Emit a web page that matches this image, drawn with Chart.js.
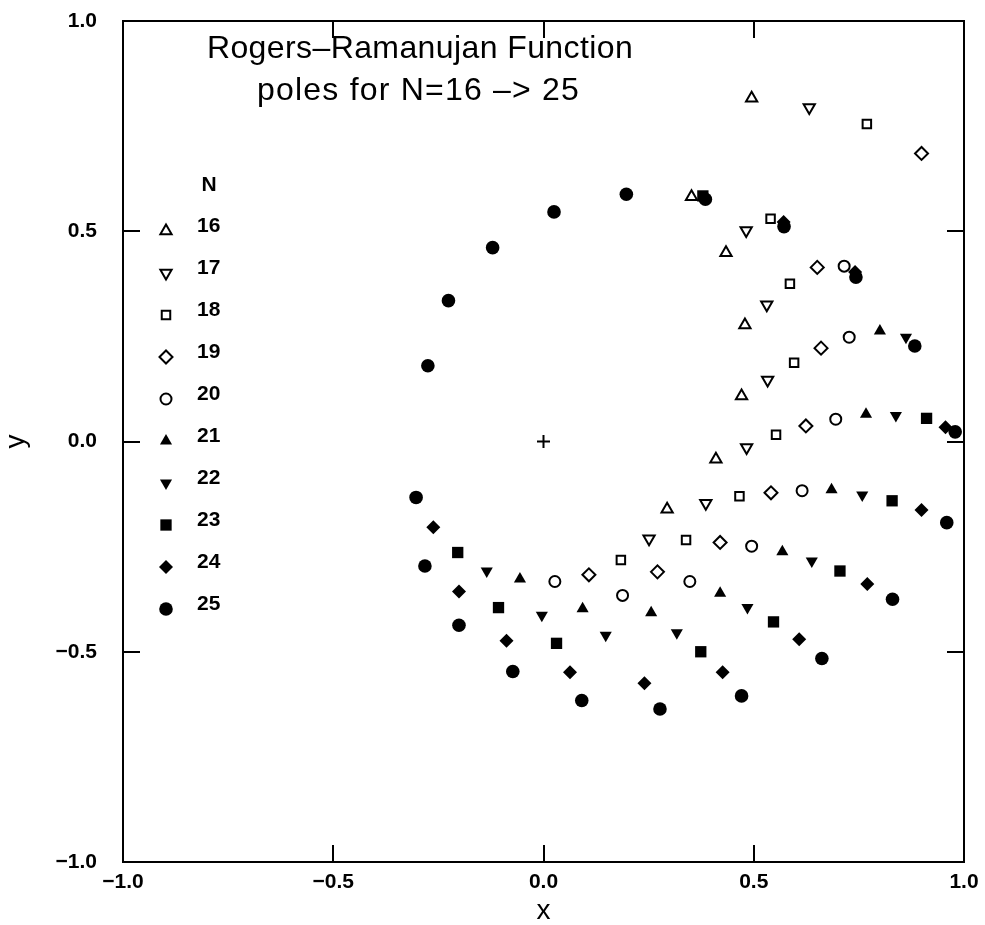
<!DOCTYPE html>
<html><head><meta charset="utf-8">
<script src="https://cdn.jsdelivr.net/npm/chart.js@4/dist/chart.umd.min.js"></script>
<style>html,body{margin:0;padding:0;background:#fff}#wrap{width:985px;height:925px}</style>
</head><body><div id="wrap"><canvas id="c" width="985" height="925"></canvas></div>
<script>
// ---------------- data ----------------
const nValues = [16, 17, 18, 19, 20, 21, 22, 23, 24, 25];

const poles16 = [[0.495,0.816],[0.352,0.582],[0.434,0.449],[0.479,0.277],[0.471,0.108],[0.410,-0.042],[0.294,-0.161]];
const poles17 = [[0.632,0.794],[0.482,0.502],[0.531,0.325],[0.533,0.146],[0.483,-0.014],[0.386,-0.147],[0.251,-0.231]];
const poles18 = [[0.769,0.755],[0.540,0.530],[0.586,0.375],[0.596,0.187],[0.553,0.016],[0.466,-0.130],[0.339,-0.234],[0.184,-0.282]];
const poles19 = [[0.899,0.685],[0.651,0.414],[0.660,0.222],[0.624,0.037],[0.541,-0.122],[0.420,-0.240],[0.271,-0.310],[0.108,-0.317]];
const poles20 = [[0.715,0.417],[0.727,0.248],[0.695,0.053],[0.615,-0.117],[0.495,-0.249],[0.348,-0.333],[0.188,-0.366],[0.027,-0.333]];
const poles21 = [[0.800,0.263],[0.767,0.065],[0.685,-0.115],[0.568,-0.262],[0.420,-0.361],[0.256,-0.407],[0.093,-0.398],[-0.056,-0.327]];
const poles22 = [[0.862,0.248],[0.838,0.062],[0.758,-0.127],[0.638,-0.284],[0.485,-0.395],[0.317,-0.455],[0.148,-0.461],[-0.004,-0.413],[-0.135,-0.308]];
const poles23 = [[0.379,0.584],[0.911,0.055],[0.829,-0.141],[0.705,-0.308],[0.547,-0.429],[0.374,-0.500],[0.031,-0.480],[-0.107,-0.395],[-0.204,-0.264]];
const poles24 = [[0.571,0.522],[0.741,0.403],[0.956,0.034],[0.899,-0.163],[0.770,-0.339],[0.608,-0.470],[0.426,-0.549],[0.240,-0.575],[0.063,-0.549],[-0.088,-0.474],[-0.201,-0.357],[-0.262,-0.204]];
const poles25 = [[-0.275,0.180],[-0.226,0.335],[-0.121,0.461],[0.025,0.546],[0.197,0.588],[0.385,0.576],[0.572,0.511],[0.743,0.391],[0.883,0.227],[0.979,0.023],[0.959,-0.193],[0.830,-0.375],[0.662,-0.516],[0.471,-0.605],[0.277,-0.636],[0.091,-0.616],[-0.073,-0.547],[-0.201,-0.437],[-0.282,-0.296],[-0.303,-0.133]];
const originMark = [[0, 0]];

const xTickValues = [-1, -0.5, 0, 0.5, 1];
const yTickValues = [-1, -0.5, 0, 0.5, 1];
const titleLines = ['Rogers\u2013Ramanujan Function', 'poles for N=16 \u2013> 25'];
const legendHeader = 'N';
const xTitle = 'x';
const yTitle = 'y';

// ---------------- styles ----------------
const poleSets = [poles16, poles17, poles18, poles19, poles20, poles21, poles22, poles23, poles24, poles25];
const markerStyles = [
  {pointStyle:'triangle', rotation:0,   radius:6.5, filled:false},
  {pointStyle:'triangle', rotation:180, radius:6.5, filled:false},
  {pointStyle:'rect',     rotation:0,   radius:6,   filled:false},
  {pointStyle:'rectRot',  rotation:0,   radius:6.5, filled:false},
  {pointStyle:'circle',   rotation:0,   radius:5.5, filled:false},
  {pointStyle:'triangle', rotation:0,   radius:7,   filled:true},
  {pointStyle:'triangle', rotation:180, radius:7,   filled:true},
  {pointStyle:'rect',     rotation:0,   radius:8,   filled:true},
  {pointStyle:'rectRot',  rotation:0,   radius:7,   filled:true},
  {pointStyle:'circle',   rotation:0,   radius:6.8, filled:true}
];
const FONT = "'Liberation Sans', Arial, Helvetica, sans-serif";

const toPts = arr => arr.map(p => ({x: p[0], y: p[1]}));

const datasets = nValues.map((n, i) => {
  const s = markerStyles[i];
  return {
    label: String(n),
    data: toPts(poleSets[i]),
    order: nValues.length - i,
    pointStyle: s.pointStyle,
    rotation: s.rotation,
    pointRadius: s.radius,
    pointHoverRadius: s.radius,
    backgroundColor: s.filled ? '#000' : 'rgba(255,255,255,0)',
    borderColor: '#000',
    borderWidth: s.filled ? 0 : 2,
    showLine: false
  };
});
datasets.push({
  label: 'origin',
  data: toPts(originMark),
  order: 20,
  pointStyle: 'cross',
  pointRadius: 6.5,
  pointHoverRadius: 6.5,
  borderColor: '#000',
  backgroundColor: '#000',
  borderWidth: 2,
  showLine: false
});

const fmt = v => {
  const s = Number(v).toFixed(1);
  return s.replace('-', '\u2212');
};
const gridOpts = {drawOnChartArea: false, tickLength: -17, tickWidth: 2, tickColor: '#000', lineWidth: 2, color: '#000'};
const borderOpts = {display: true, width: 2, color: '#000'};
const tickFont = {family: FONT, size: 21, weight: 'bold'};
const noPad = s => { s.paddingLeft = 0; s.paddingRight = 0; s.paddingTop = 0; s.paddingBottom = 0; };

const titlePlugin = {
  id: 'titleInside',
  afterDraw(chart) {
    const ctx = chart.ctx;
    ctx.save();
    ctx.fillStyle = '#000';
    ctx.font = "32px " + FONT;
    ctx.textAlign = 'center';
    ctx.textBaseline = 'alphabetic';
    if ('letterSpacing' in ctx) ctx.letterSpacing = '0.4px';
    ctx.fillText(titleLines[0], 420, 58);
    if ('letterSpacing' in ctx) ctx.letterSpacing = '1.2px';
    ctx.fillText(titleLines[1], 418.5, 100);
    if ('letterSpacing' in ctx) ctx.letterSpacing = '0px';
    ctx.restore();
  }
};

const legendPlugin = {
  id: 'legendInside',
  afterDraw(chart) {
    const ctx = chart.ctx;
    ctx.save();
    ctx.fillStyle = '#000';
    ctx.font = "bold 21px " + FONT;
    ctx.textBaseline = 'middle';
    ctx.textAlign = 'center';
    ctx.fillText(legendHeader, 209, 185);
    ctx.textAlign = 'left';
    nValues.forEach((n, i) => {
      const yc = 226 + 42 * i;
      ctx.fillStyle = '#000';
      ctx.fillText(String(n), 197, yc);
      const s = markerStyles[i];
      ctx.save();
      ctx.fillStyle = s.filled ? '#000' : 'rgba(255,255,255,0)';
      ctx.strokeStyle = '#000';
      ctx.lineWidth = s.filled ? 0 : 2;
      Chart.helpers.drawPoint(ctx, {pointStyle: s.pointStyle, rotation: s.rotation, radius: s.radius, borderWidth: s.filled ? 0 : 2}, 166, yc + 5);
      ctx.restore();
    });
    ctx.restore();
  }
};

new Chart(document.getElementById('c'), {
  type: 'scatter',
  data: {datasets},
  options: {
    responsive: false,
    animation: false,
    events: [],
    layout: {padding: 0},
    plugins: {legend: {display: false}, tooltip: {enabled: false}, title: {display: false}},
    scales: {
      x: {
        type: 'linear', position: 'bottom', min: -1, max: 1,
        afterBuildTicks: s => { s.ticks = xTickValues.map(v => ({value: v})); },
        afterFit: s => { s.height = 63; noPad(s); },
        ticks: {callback: fmt, font: tickFont, color: '#000', padding: 25, maxRotation: 0, autoSkip: false},
        grid: gridOpts, border: borderOpts,
        title: {display: true, text: xTitle, color: '#000', font: {family: FONT, size: 28, lineHeight: 1}, padding: {top: 0, bottom: 0}}
      },
      y: {
        type: 'linear', position: 'left', min: -1, max: 1,
        afterBuildTicks: s => { s.ticks = yTickValues.map(v => ({value: v})); },
        afterFit: s => { s.width = 123; noPad(s); },
        ticks: {callback: fmt, font: tickFont, color: '#000', padding: 43, autoSkip: false},
        grid: gridOpts, border: borderOpts,
        title: {display: true, text: yTitle, color: '#000', font: {family: FONT, size: 28, lineHeight: 1}, padding: {top: 2, bottom: 0}}
      },
      x2: {
        type: 'linear', axis: 'x', position: 'top', min: -1, max: 1,
        afterBuildTicks: s => { s.ticks = xTickValues.map(v => ({value: v})); },
        afterFit: s => { s.height = 21; noPad(s); },
        ticks: {display: false},
        grid: gridOpts, border: borderOpts
      },
      y2: {
        type: 'linear', axis: 'y', position: 'right', min: -1, max: 1,
        afterBuildTicks: s => { s.ticks = yTickValues.map(v => ({value: v})); },
        afterFit: s => { s.width = 21; noPad(s); },
        ticks: {display: false},
        grid: gridOpts, border: borderOpts
      }
    }
  },
  plugins: [titlePlugin, legendPlugin]
});
</script>
</body></html>
